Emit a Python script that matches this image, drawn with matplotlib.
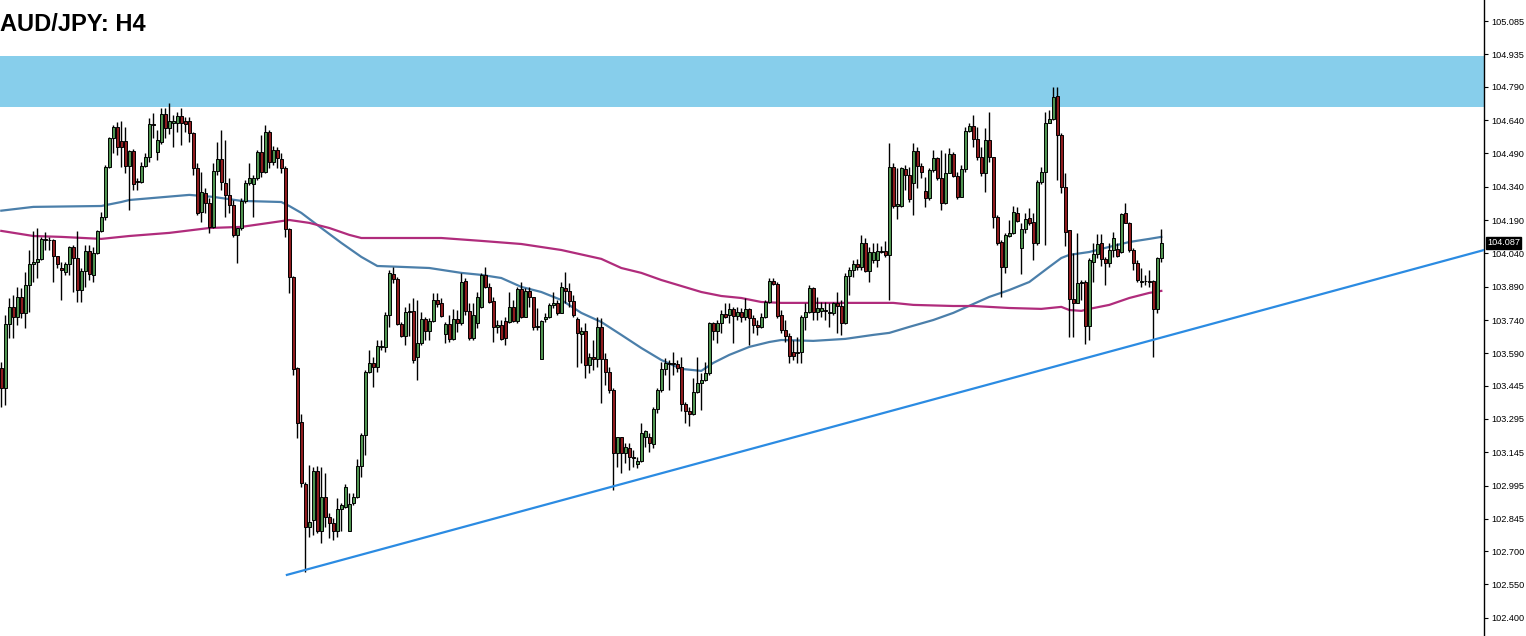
import numpy as np
import matplotlib.pyplot as plt
from matplotlib import transforms

# H4 candles (prices)
opens = [
    103.524, 103.434, 103.722, 103.799, 103.754, 103.844, 103.772, 103.898, 103.992, 104.001,
    104.015, 104.100, 104.100, 104.100, 104.028, 103.974, 103.956, 103.992, 104.069, 104.019,
    103.875, 103.961, 104.051, 103.943, 104.042, 104.141, 104.204, 104.429, 104.559, 104.609,
    104.546, 104.546, 104.433, 104.501, 104.361, 104.361, 104.433, 104.474, 104.622, 104.496,
    104.541, 104.667, 104.604, 104.627, 104.627, 104.658, 104.636, 104.636, 104.582, 104.424,
    104.226, 104.312, 104.267, 104.159, 104.411, 104.465, 104.357, 104.303, 104.258, 104.123,
    104.154, 104.276, 104.357, 104.352, 104.379, 104.496, 104.406, 104.586, 104.451, 104.505,
    104.465, 104.424, 104.150, 103.934, 103.524, 103.281, 103.002, 102.809, 102.840, 103.061,
    102.791, 102.944, 102.854, 102.827, 102.791, 102.890, 102.899, 102.791, 102.917, 102.944,
    103.083, 103.223, 103.506, 103.547, 103.529, 103.619, 103.619, 103.763, 103.947, 103.925,
    103.722, 103.668, 103.776, 103.781, 103.574, 103.637, 103.745, 103.691, 103.736, 103.830,
    103.817, 103.677, 103.722, 103.655, 103.745, 103.727, 103.916, 103.781, 103.659, 103.727,
    103.799, 103.943, 103.889, 103.826, 103.709, 103.718, 103.736, 103.731, 103.799, 103.736,
    103.880, 103.754, 103.871, 103.844, 103.709, 103.565, 103.745, 103.754, 103.808, 103.817,
    103.772, 103.884, 103.871, 103.826, 103.745, 103.677, 103.691, 103.538, 103.574, 103.565,
    103.709, 103.565, 103.506, 103.425, 103.142, 103.214, 103.142, 103.164, 103.124, 103.092,
    103.106, 103.214, 103.214, 103.182, 103.340, 103.425, 103.520, 103.542, 103.547, 103.542,
    103.529, 103.362, 103.331, 103.317, 103.416, 103.457, 103.470, 103.502, 103.727, 103.691,
    103.727, 103.767, 103.763, 103.790, 103.758, 103.776, 103.754, 103.790, 103.749, 103.718,
    103.709, 103.754, 103.821, 103.916, 103.902, 103.763, 103.695, 103.668, 103.596, 103.592,
    103.596, 103.754, 103.776, 103.884, 103.776, 103.781, 103.785, 103.772, 103.772, 103.817,
    103.803, 103.727, 103.938, 103.965, 103.992, 103.979, 104.087, 103.961, 104.010, 104.010,
    104.051, 104.051, 104.033, 104.429, 104.253, 104.253, 104.420, 104.393, 104.357, 104.501,
    104.433, 104.321, 104.289, 104.415, 104.469, 104.379, 104.267, 104.402, 104.487, 104.388,
    104.294, 104.420, 104.591, 104.613, 104.555, 104.474, 104.402, 104.550, 104.474, 104.204,
    104.091, 103.979, 104.118, 104.132, 104.222, 104.064, 104.150, 104.199, 104.181, 104.087,
    104.361, 104.406, 104.627, 104.645, 104.748, 104.573, 104.339, 104.145, 103.835, 103.817,
    103.907, 103.911, 103.713, 104.001, 104.037, 104.087, 104.015, 103.997, 104.055, 104.060,
    104.046, 104.222, 104.177, 104.055, 103.997, 103.911, 103.916, 103.916, 103.916, 103.790,
    104.019]

highs = [
    103.551, 103.763, 103.839, 103.853, 103.889, 103.884, 103.956, 104.055, 104.141, 104.154,
    104.114, 104.136, 104.114, 104.105, 104.028, 104.001, 104.001, 104.073, 104.078, 104.141,
    103.974, 104.078, 104.078, 104.069, 104.145, 104.226, 104.438, 104.564, 104.618, 104.631,
    104.636, 104.609, 104.505, 104.510, 104.379, 104.451, 104.492, 104.649, 104.672, 104.595,
    104.694, 104.694, 104.717, 104.663, 104.676, 104.694, 104.654, 104.654, 104.586, 104.447,
    104.406, 104.334, 104.289, 104.447, 104.541, 104.595, 104.550, 104.379, 104.280, 104.154,
    104.289, 104.370, 104.447, 104.393, 104.505, 104.573, 104.618, 104.595, 104.523, 104.519,
    104.492, 104.433, 104.154, 103.938, 103.529, 103.317, 103.011, 103.088, 103.079, 103.083,
    103.079, 103.052, 102.872, 102.849, 102.939, 102.917, 103.002, 102.962, 102.962, 103.115,
    103.232, 103.515, 103.605, 103.574, 103.650, 103.650, 103.776, 103.965, 103.979, 103.934,
    103.731, 103.799, 103.817, 103.839, 103.830, 103.776, 103.754, 103.749, 103.862, 103.862,
    103.839, 103.731, 103.763, 103.790, 103.785, 103.952, 103.929, 103.817, 103.817, 103.866,
    103.952, 103.979, 103.907, 103.844, 103.740, 103.740, 103.754, 103.866, 103.830, 103.889,
    103.911, 103.884, 103.889, 103.844, 103.794, 103.740, 103.772, 103.817, 103.866, 103.830,
    103.911, 103.956, 103.907, 103.853, 103.754, 103.709, 103.727, 103.592, 103.650, 103.754,
    103.749, 103.592, 103.529, 103.434, 103.214, 103.214, 103.187, 103.187, 103.155, 103.124,
    103.277, 103.245, 103.232, 103.349, 103.434, 103.551, 103.569, 103.560, 103.596, 103.560,
    103.574, 103.371, 103.349, 103.479, 103.574, 103.502, 103.551, 103.731, 103.731, 103.740,
    103.785, 103.817, 103.817, 103.799, 103.799, 103.794, 103.839, 103.794, 103.763, 103.740,
    103.772, 103.830, 103.929, 103.929, 103.911, 103.785, 103.740, 103.682, 103.650, 103.664,
    103.763, 103.817, 103.898, 103.889, 103.844, 103.821, 103.821, 103.817, 103.821, 103.866,
    103.830, 103.952, 103.979, 104.010, 104.015, 104.123, 104.109, 104.069, 104.087, 104.087,
    104.073, 104.096, 104.537, 104.447, 104.424, 104.429, 104.438, 104.429, 104.537, 104.519,
    104.447, 104.384, 104.424, 104.505, 104.474, 104.505, 104.492, 104.514, 104.496, 104.406,
    104.438, 104.609, 104.627, 104.663, 104.609, 104.519, 104.604, 104.676, 104.474, 104.213,
    104.100, 104.132, 104.190, 104.253, 104.249, 104.177, 104.222, 104.244, 104.222, 104.370,
    104.429, 104.676, 104.685, 104.789, 104.789, 104.582, 104.402, 104.145, 104.042, 104.132,
    103.920, 103.920, 104.019, 104.087, 104.127, 104.127, 104.024, 104.087, 104.136, 104.087,
    104.222, 104.267, 104.181, 104.064, 104.010, 103.974, 103.943, 103.965, 103.920, 104.024,
    104.150]

lows = [
    103.349, 103.358, 103.659, 103.659, 103.718, 103.749, 103.704, 103.776, 103.911, 103.929,
    104.010, 104.055, 104.055, 103.911, 103.974, 103.830, 103.943, 103.943, 103.866, 103.821,
    103.821, 103.889, 103.920, 103.911, 104.037, 104.136, 104.190, 104.424, 104.492, 104.483,
    104.429, 104.402, 104.235, 104.325, 104.325, 104.357, 104.429, 104.451, 104.559, 104.460,
    104.532, 104.559, 104.577, 104.519, 104.586, 104.528, 104.586, 104.541, 104.393, 104.213,
    104.181, 104.222, 104.132, 104.154, 104.393, 104.325, 104.204, 104.222, 104.114, 103.997,
    104.145, 104.267, 104.348, 104.204, 104.370, 104.384, 104.402, 104.424, 104.438, 104.424,
    104.402, 104.114, 103.862, 103.493, 103.209, 102.989, 102.606, 102.764, 102.773, 102.782,
    102.737, 102.809, 102.759, 102.750, 102.764, 102.791, 102.894, 102.791, 102.908, 102.939,
    103.034, 103.133, 103.502, 103.439, 103.506, 103.605, 103.596, 103.709, 103.907, 103.718,
    103.664, 103.628, 103.668, 103.547, 103.470, 103.628, 103.650, 103.650, 103.731, 103.799,
    103.754, 103.637, 103.641, 103.650, 103.686, 103.718, 103.763, 103.650, 103.650, 103.704,
    103.794, 103.884, 103.817, 103.641, 103.682, 103.650, 103.628, 103.727, 103.731, 103.727,
    103.749, 103.754, 103.799, 103.695, 103.695, 103.565, 103.731, 103.749, 103.794, 103.763,
    103.772, 103.817, 103.799, 103.754, 103.529, 103.547, 103.479, 103.502, 103.515, 103.529,
    103.367, 103.448, 103.412, 102.975, 103.079, 103.052, 103.097, 103.065, 103.079, 103.074,
    103.101, 103.169, 103.146, 103.164, 103.322, 103.416, 103.493, 103.425, 103.493, 103.506,
    103.331, 103.277, 103.263, 103.313, 103.412, 103.335, 103.466, 103.493, 103.650, 103.637,
    103.682, 103.749, 103.727, 103.637, 103.740, 103.731, 103.740, 103.628, 103.682, 103.673,
    103.704, 103.749, 103.817, 103.898, 103.749, 103.682, 103.641, 103.547, 103.560, 103.547,
    103.547, 103.695, 103.772, 103.740, 103.740, 103.754, 103.740, 103.709, 103.763, 103.682,
    103.673, 103.722, 103.853, 103.934, 103.965, 103.965, 103.956, 103.911, 103.997, 103.979,
    104.042, 104.024, 103.830, 104.244, 104.195, 104.249, 104.325, 104.271, 104.213, 104.334,
    104.379, 104.249, 104.280, 104.406, 104.370, 104.235, 104.262, 104.402, 104.384, 104.285,
    104.294, 104.406, 104.586, 104.519, 104.460, 104.388, 104.316, 104.451, 104.154, 104.078,
    103.844, 103.952, 104.114, 104.127, 104.181, 103.947, 104.132, 104.168, 104.010, 104.078,
    104.352, 104.078, 104.627, 104.640, 104.370, 104.312, 104.073, 103.664, 103.664, 103.817,
    103.830, 103.632, 103.650, 103.911, 104.019, 103.983, 103.898, 103.979, 104.024, 104.024,
    104.042, 104.177, 104.046, 103.965, 103.911, 103.889, 103.898, 103.889, 103.574, 103.772,
    104.001]

closes = [
    103.434, 103.722, 103.799, 103.754, 103.844, 103.772, 103.898, 103.992, 104.001, 104.015,
    104.105, 104.105, 104.100, 104.028, 103.992, 103.965, 103.992, 104.069, 104.019, 103.875,
    103.961, 104.051, 103.947, 104.042, 104.141, 104.204, 104.429, 104.559, 104.609, 104.519,
    104.519, 104.433, 104.501, 104.352, 104.366, 104.433, 104.474, 104.622, 104.618, 104.550,
    104.667, 104.604, 104.636, 104.636, 104.658, 104.627, 104.622, 104.582, 104.424, 104.222,
    104.316, 104.267, 104.159, 104.411, 104.465, 104.361, 104.303, 104.258, 104.123, 104.154,
    104.276, 104.357, 104.379, 104.379, 104.496, 104.406, 104.586, 104.451, 104.505, 104.469,
    104.424, 104.150, 103.934, 103.520, 103.277, 103.007, 102.809, 102.831, 103.061, 102.791,
    102.944, 102.854, 102.827, 102.791, 102.890, 102.908, 102.989, 102.912, 102.944, 103.083,
    103.223, 103.506, 103.547, 103.529, 103.623, 103.623, 103.763, 103.952, 103.925, 103.722,
    103.668, 103.776, 103.781, 103.560, 103.637, 103.745, 103.691, 103.736, 103.830, 103.812,
    103.758, 103.722, 103.655, 103.745, 103.727, 103.911, 103.781, 103.659, 103.763, 103.844,
    103.943, 103.889, 103.821, 103.709, 103.718, 103.655, 103.659, 103.799, 103.736, 103.880,
    103.754, 103.871, 103.844, 103.709, 103.713, 103.736, 103.754, 103.808, 103.817, 103.772,
    103.889, 103.871, 103.826, 103.763, 103.682, 103.691, 103.538, 103.574, 103.565, 103.709,
    103.565, 103.506, 103.425, 103.142, 103.214, 103.142, 103.169, 103.124, 103.119, 103.106,
    103.232, 103.241, 103.187, 103.340, 103.425, 103.520, 103.547, 103.547, 103.542, 103.524,
    103.362, 103.331, 103.317, 103.416, 103.457, 103.470, 103.502, 103.727, 103.691, 103.727,
    103.767, 103.754, 103.790, 103.758, 103.776, 103.754, 103.790, 103.749, 103.718, 103.709,
    103.754, 103.821, 103.916, 103.902, 103.758, 103.695, 103.668, 103.578, 103.578, 103.596,
    103.754, 103.776, 103.884, 103.776, 103.794, 103.794, 103.781, 103.776, 103.817, 103.803,
    103.727, 103.938, 103.965, 103.992, 103.979, 104.087, 103.961, 104.046, 104.046, 104.051,
    104.046, 104.033, 104.429, 104.253, 104.262, 104.424, 104.393, 104.285, 104.501, 104.433,
    104.406, 104.289, 104.415, 104.469, 104.379, 104.267, 104.402, 104.487, 104.388, 104.294,
    104.420, 104.591, 104.613, 104.555, 104.474, 104.402, 104.550, 104.474, 104.204, 104.087,
    103.979, 104.123, 104.132, 104.226, 104.186, 104.150, 104.195, 104.177, 104.087, 104.361,
    104.406, 104.627, 104.645, 104.744, 104.573, 104.339, 104.136, 103.835, 103.817, 103.907,
    103.911, 103.713, 104.010, 104.037, 104.082, 104.015, 103.997, 104.055, 104.109, 104.028,
    104.217, 104.177, 104.055, 103.997, 103.920, 103.916, 103.916, 103.911, 103.790, 104.019,
    104.087]

# moving averages (sampled along the chart)
ma_blue_idx = [0, 8, 25, 30, 32, 47, 53, 60, 70, 72, 75, 80, 85, 90, 94, 100, 107, 115,
               120, 125, 130, 135, 140, 145, 150, 155, 160, 165, 170, 175, 178, 182, 187,
               192, 195, 203, 211, 218, 222, 227, 233, 238, 243, 247, 252, 257, 262, 265,
               267, 272, 277, 282, 287, 290]
ma_blue = [104.232, 104.249, 104.253, 104.271, 104.280, 104.303, 104.294, 104.276, 104.271,
           104.253, 104.222, 104.154, 104.087, 104.024, 103.983, 103.979, 103.974, 103.952,
           103.943, 103.929, 103.889, 103.866, 103.830, 103.772, 103.731, 103.673, 103.614,
           103.560, 103.520, 103.511, 103.547, 103.583, 103.619, 103.641, 103.650, 103.646,
           103.655, 103.673, 103.682, 103.709, 103.740, 103.772, 103.812, 103.844, 103.875,
           103.911, 103.979, 104.019, 104.033, 104.046, 104.069, 104.091, 104.105, 104.114]

ma_mag_idx = [0, 8, 15, 25, 32, 42, 52, 60, 67, 72, 77, 82, 87, 90, 100, 110, 120, 130,
              140, 150, 155, 160, 165, 170, 175, 180, 185, 190, 195, 223, 228, 238, 243,
              252, 260, 265, 267, 270, 272, 277, 282, 287, 290]
ma_mag = [104.141, 104.118, 104.114, 104.105, 104.118, 104.132, 104.154, 104.159, 104.177,
          104.190, 104.177, 104.154, 104.123, 104.109, 104.109, 104.109, 104.096, 104.082,
          104.055, 104.015, 103.974, 103.952, 103.920, 103.893, 103.866, 103.848, 103.839,
          103.821, 103.817, 103.817, 103.808, 103.803, 103.803, 103.794, 103.790, 103.799,
          103.785, 103.781, 103.790, 103.808, 103.839, 103.862, 103.871]

# trendline end points (bar index, price)
trend_idx = [71.4, 370.7]
trend_px = [102.593, 104.055]

zone_low, zone_high = 104.700, 104.927
last_price = 104.087

ytick_vals = [105.085, 104.935, 104.790, 104.640, 104.490, 104.340, 104.190, 104.040,
              103.890, 103.740, 103.590, 103.445, 103.295, 103.145, 102.995, 102.845,
              102.700, 102.550, 102.400]

n = min(len(opens), len(highs), len(lows), len(closes))
o = np.array(opens[:n]); h = np.array(highs[:n])
l = np.array(lows[:n]); c = np.array(closes[:n])
x = np.arange(n)
up = c >= o

fig = plt.figure(figsize=(15.26, 6.36), dpi=100)
ax = fig.add_axes([0, 0, 1484 / 1526, 1])

ax.axhspan(zone_low, zone_high, color='#87CEEB', zorder=0, lw=0)

ax.plot(ma_blue_idx, ma_blue, color='#4B7FAA', lw=1.6, zorder=1)
ax.plot(ma_mag_idx, ma_mag, color='#B02C7C', lw=1.6, zorder=1)

ax.vlines(x, l, h, color='black', lw=1.0, zorder=2)
ax.bar(x[up], (c - o)[up], bottom=o[up], width=0.7, color='#4F9350',
       edgecolor='black', lw=0.7, zorder=3)
ax.bar(x[~up], (c - o)[~up], bottom=o[~up], width=0.7, color='#8E1B1E',
       edgecolor='black', lw=0.7, zorder=3)

ax.plot(trend_idx, trend_px, color='#2B8BE2', lw=1.6, zorder=4)

ax.set_xlim(-0.325, 370.675)
ax.set_ylim(102.318, 105.18)
ax.set_xticks([])
ax.yaxis.tick_right()
ax.set_yticks(ytick_vals)
ax.set_yticklabels([f'{v:.3f}' for v in ytick_vals], fontsize=6.6, family='Liberation Sans')
ax.tick_params(axis='y', direction='out', length=3, width=0.8, pad=2.5)
for s in ['top', 'left', 'bottom']:
    ax.spines[s].set_visible(False)
ax.spines['right'].set_linewidth(1.0)

trans = transforms.blended_transform_factory(ax.transAxes, ax.transData)
ax.text(1.002, last_price, f'{last_price:.3f}', transform=trans, ha='left', va='center',
        fontsize=6.6, family='Liberation Sans', color='white', zorder=6,
        bbox=dict(facecolor='black', edgecolor='black', pad=1.0), clip_on=False)

fig.text(0.0, 1 - 31 / 636, 'AUD/JPY: H4', fontsize=17, fontweight='bold',
         family='Liberation Sans', va='baseline', ha='left')

fig.savefig('out.png', dpi=100)
